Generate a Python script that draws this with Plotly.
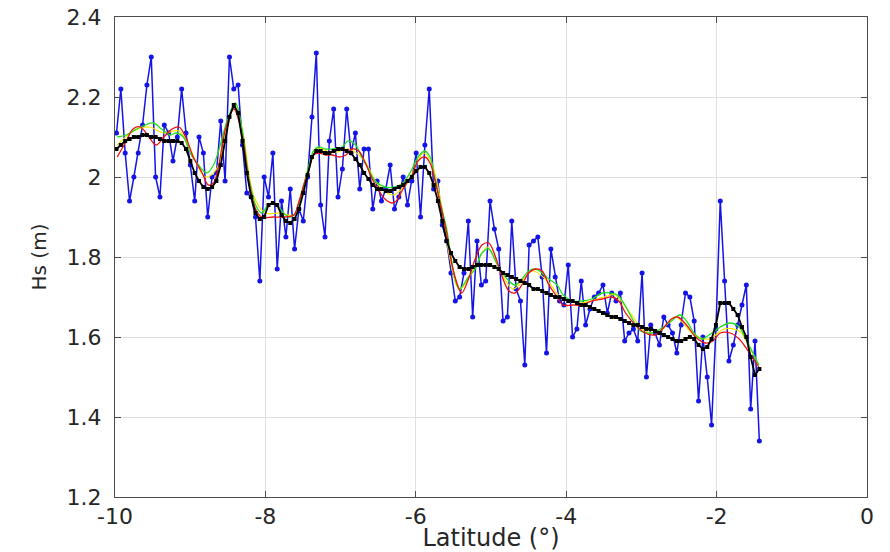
import numpy as np
import plotly.graph_objects as go

# Along-track sampling: first latitude, spacing (deg) and number of samples
lat_start = -9.98
lat_step = 0.05776

# Raw significant wave height along the track (m)
hs_raw = [
    2.11, 2.22, 2.06, 1.94, 2.00, 2.06, 2.13, 2.23, 2.30, 2.00,
    1.95, 2.13, 2.11, 2.04, 2.10, 2.22, 2.11, 2.03, 1.94, 2.10,
    2.06, 1.90, 2.00, 2.01, 2.14, 1.99, 2.30, 2.22, 2.23, 2.08,
    1.96, 1.95, 1.90, 1.74, 2.00, 1.95, 2.06, 1.77, 1.94, 1.85,
    1.97, 1.82, 1.92, 1.89, 2.00, 2.15, 2.31, 1.93, 1.85, 2.09,
    2.17, 1.95, 2.02, 2.17, 2.06, 2.11, 1.97, 2.07, 2.07, 1.92,
    1.99, 1.94, 1.97, 2.03, 1.92, 1.95, 2.00, 1.93, 1.99, 2.06,
    1.90, 2.08, 2.22, 1.97, 1.99, 1.88, 1.84, 1.76, 1.69, 1.70,
    1.76, 1.89, 1.65, 1.84, 1.73, 1.74, 1.94, 1.87, 1.82, 1.64,
    1.65, 1.89, 1.72, 1.69, 1.53, 1.83, 1.84, 1.85, 1.75, 1.56,
    1.82, 1.75, 1.69, 1.68, 1.78, 1.60, 1.62, 1.74, 1.63, 1.67,
    1.70, 1.71, 1.73, 1.66, 1.71, 1.69, 1.71, 1.59, 1.61, 1.62,
    1.59, 1.76, 1.50, 1.63, 1.61, 1.58, 1.65, 1.63, 1.61, 1.56,
    1.63, 1.71, 1.70, 1.64, 1.44, 1.60, 1.50, 1.38, 1.62, 1.94,
    1.74, 1.54, 1.58, 1.63, 1.68, 1.73, 1.42, 1.59, 1.34,
]

# Smoothed Hs at the same samples (m)
hs_smooth = [
    2.07, 2.08, 2.09, 2.095, 2.10, 2.10, 2.105, 2.105, 2.10, 2.10,
    2.095, 2.09, 2.09, 2.09, 2.09, 2.085, 2.07, 2.04, 2.01, 1.99,
    1.975, 1.97, 1.975, 1.99, 2.03, 2.09, 2.15, 2.18, 2.16, 2.09,
    2.01, 1.95, 1.91, 1.895, 1.90, 1.93, 1.935, 1.93, 1.905, 1.89,
    1.885, 1.895, 1.92, 1.96, 2.005, 2.05, 2.065, 2.065, 2.06, 2.06,
    2.065, 2.07, 2.07, 2.065, 2.06, 2.045, 2.03, 2.01, 1.995, 1.98,
    1.97, 1.97, 1.965, 1.965, 1.97, 1.975, 1.98, 1.99, 2.00, 2.015,
    2.025, 2.025, 2.01, 1.98, 1.94, 1.89, 1.84, 1.81, 1.79, 1.775,
    1.77, 1.77, 1.775, 1.78, 1.78, 1.78, 1.78, 1.775, 1.77, 1.76,
    1.755, 1.75, 1.745, 1.74, 1.735, 1.73, 1.72, 1.72, 1.715, 1.71,
    1.705, 1.70, 1.70, 1.695, 1.69, 1.69, 1.685, 1.68, 1.68, 1.675,
    1.67, 1.665, 1.66, 1.655, 1.65, 1.65, 1.645, 1.64, 1.635, 1.63,
    1.63, 1.625, 1.62, 1.62, 1.615, 1.61, 1.605, 1.60, 1.595, 1.59,
    1.59, 1.595, 1.60, 1.595, 1.58, 1.57, 1.575, 1.595, 1.63, 1.685,
    1.685, 1.685, 1.67, 1.655, 1.625, 1.60, 1.55, 1.505, 1.52,
]

# Filtered curves (latitude, Hs)
green_lat = [-9.97, -9.85, -9.76, -9.60, -9.49, -9.38, -9.27, -9.18, -9.09, -9.00,
             -8.89, -8.78, -8.69, -8.60, -8.51, -8.40, -8.31, -8.22, -8.13, -8.05,
             -7.96, -7.87, -7.78, -7.69, -7.62, -7.56, -7.49, -7.42, -7.36, -7.29,
             -7.20, -7.11, -6.98, -6.90, -6.80, -6.72, -6.63, -6.54, -6.41, -6.28,
             -6.17, -6.05, -5.97, -5.88, -5.81, -5.75, -5.66, -5.59, -5.54, -5.47,
             -5.42, -5.30, -5.21, -5.12, -5.03, -4.94, -4.85, -4.76, -4.68, -4.59,
             -4.50, -4.41, -4.32, -4.23, -4.12, -4.04, -3.92, -3.79, -3.66, -3.52,
             -3.42, -3.32, -3.22, -3.12, -3.01, -2.86, -2.75, -2.60, -2.49, -2.40,
             -2.30, -2.20, -2.10, -1.95, -1.82, -1.70, -1.60, -1.53, -1.44]
green_hs = [2.10, 2.105, 2.115, 2.13, 2.135, 2.12, 2.105, 2.11, 2.10, 2.06,
            2.03, 2.01, 2.03, 2.08, 2.14, 2.185, 2.12, 2.00, 1.93, 1.91,
            1.93, 1.935, 1.915, 1.90, 1.905, 1.93, 1.98, 2.03, 2.065, 2.075,
            2.07, 2.07, 2.075, 2.09, 2.08, 2.05, 2.02, 1.99, 1.975, 1.975,
            1.985, 2.02, 2.05, 2.065, 2.05, 2.00, 1.925, 1.87, 1.81, 1.74,
            1.72, 1.75, 1.77, 1.81, 1.82, 1.79, 1.76, 1.74, 1.73, 1.745,
            1.765, 1.77, 1.76, 1.745, 1.73, 1.705, 1.69, 1.69, 1.695, 1.71,
            1.71, 1.705, 1.68, 1.645, 1.615, 1.61, 1.62, 1.64, 1.655, 1.64,
            1.61, 1.595, 1.605, 1.625, 1.635, 1.625, 1.59, 1.565, 1.53]

red_lat = [-9.97, -9.85, -9.76, -9.66, -9.55, -9.45, -9.35, -9.24, -9.15, -9.06,
           -8.96, -8.84, -8.76, -8.69, -8.63, -8.53, -8.42, -8.31, -8.22, -8.13,
           -8.05, -7.90, -7.75, -7.62, -7.56, -7.49, -7.42, -7.36, -7.29, -7.20,
           -7.11, -7.02, -6.93, -6.85, -6.76, -6.67, -6.58, -6.49, -6.41, -6.32,
           -6.26, -6.17, -6.05, -5.97, -5.88, -5.81, -5.75, -5.66, -5.59, -5.54,
           -5.47, -5.39, -5.30, -5.21, -5.12, -5.03, -4.94, -4.85, -4.76, -4.68,
           -4.59, -4.50, -4.41, -4.32, -4.23, -4.12, -4.04, -3.92, -3.79, -3.66,
           -3.52, -3.39, -3.30, -3.21, -3.08, -2.95, -2.82, -2.72, -2.60, -2.52,
           -2.40, -2.28, -2.15, -2.05, -1.95, -1.82, -1.70, -1.58, -1.44]
red_hs = [2.05, 2.09, 2.12, 2.125, 2.10, 2.08, 2.10, 2.12, 2.125, 2.10,
          2.05, 2.01, 1.98, 1.985, 2.02, 2.12, 2.17, 2.105, 1.99, 1.92,
          1.90, 1.90, 1.90, 1.905, 1.935, 1.98, 2.02, 2.055, 2.06, 2.055,
          2.055, 2.05, 2.055, 2.07, 2.065, 2.035, 1.995, 1.965, 1.945, 1.935,
          1.94, 1.97, 2.005, 2.04, 2.05, 2.035, 1.995, 1.92, 1.86, 1.80,
          1.745, 1.71, 1.745, 1.795, 1.83, 1.835, 1.80, 1.75, 1.715, 1.71,
          1.73, 1.76, 1.77, 1.765, 1.73, 1.70, 1.68, 1.68, 1.68, 1.69,
          1.695, 1.70, 1.69, 1.66, 1.63, 1.61, 1.605, 1.62, 1.645, 1.65,
          1.63, 1.60, 1.585, 1.59, 1.61, 1.61, 1.595, 1.565, 1.525]

yellow_lat = [-9.97, -9.75, -9.55, -9.35, -9.15, -9.00, -8.80, -8.65, -8.50, -8.41,
              -8.30, -8.15, -8.00, -7.80, -7.62, -7.45, -7.30, -7.10, -6.90, -6.70,
              -6.50, -6.30, -6.10, -5.90, -5.80, -5.65, -5.55, -5.42, -5.20, -5.05,
              -4.85, -4.70, -4.45, -4.25, -4.05, -3.80, -3.50, -3.35, -3.15, -2.95,
              -2.75, -2.55, -2.30, -2.10, -1.90, -1.70, -1.55, -1.44]
yellow_hs = [2.08, 2.115, 2.125, 2.11, 2.115, 2.07, 2.00, 2.02, 2.13, 2.18,
             2.11, 1.95, 1.91, 1.91, 1.905, 2.00, 2.07, 2.06, 2.07, 2.045,
             1.98, 1.955, 1.99, 2.06, 2.04, 1.92, 1.80, 1.72, 1.78, 1.825,
             1.755, 1.72, 1.765, 1.74, 1.695, 1.685, 1.70, 1.705, 1.66, 1.615,
             1.615, 1.65, 1.605, 1.595, 1.62, 1.615, 1.57, 1.53]

x_ticks = [-10, -8, -6, -4, -2, 0]
y_ticks = [1.2, 1.4, 1.6, 1.8, 2.0, 2.2, 2.4]
y_tick_text = ["1.2", "1.4", "1.6", "1.8", "2", "2.2", "2.4"]

lat = np.round(lat_start + lat_step * np.arange(len(hs_raw)), 4)

fig = go.Figure()
fig.add_trace(go.Scatter(
    x=lat, y=hs_raw, mode="lines+markers",
    line=dict(color="#1414e6", width=1.5),
    marker=dict(color="#1414e6", size=5, symbol="circle"),
))
fig.add_trace(go.Scatter(
    x=yellow_lat, y=yellow_hs, mode="lines", line_shape="spline",
    line=dict(color="#f2e600", width=1.2),
))
fig.add_trace(go.Scatter(
    x=green_lat, y=green_hs, mode="lines", line_shape="spline",
    line=dict(color="#1ee01e", width=1.3),
))
fig.add_trace(go.Scatter(
    x=red_lat, y=red_hs, mode="lines", line_shape="spline",
    line=dict(color="#ee1010", width=1.3),
))
fig.add_trace(go.Scatter(
    x=lat, y=hs_smooth, mode="lines+markers",
    line=dict(color="#000000", width=1.8),
    marker=dict(color="#000000", size=4, symbol="square"),
))

axis_common = dict(
    showline=True, linecolor="#4d4d4d", linewidth=1, mirror="ticks",
    ticks="inside", ticklen=6, tickcolor="#4d4d4d",
    showgrid=True, gridcolor="#e0e0e0", gridwidth=1, zeroline=False,
    automargin=False,
    tickfont=dict(family="DejaVu Sans", size=22, color="#262626"),
)

fig.update_layout(
    width=890, height=552,
    margin=dict(l=115, r=23, t=17, b=55),
    paper_bgcolor="white", plot_bgcolor="white",
    showlegend=False,
    xaxis=dict(range=[-10, 0], tickvals=x_ticks, ticktext=[str(v) for v in x_ticks],
               ticklabelstandoff=0,
               title=dict(text="Latitude (°)", standoff=0,
                          font=dict(family="DejaVu Sans", size=24, color="#262626")),
               **axis_common),
    yaxis=dict(range=[1.2, 2.4], tickvals=y_ticks, ticktext=y_tick_text,
               ticklabelstandoff=8,
               title=dict(text="Hs (m)", standoff=14,
                          font=dict(family="DejaVu Sans", size=20, color="#262626")),
               **axis_common),
)

fig.write_html("out.html")
